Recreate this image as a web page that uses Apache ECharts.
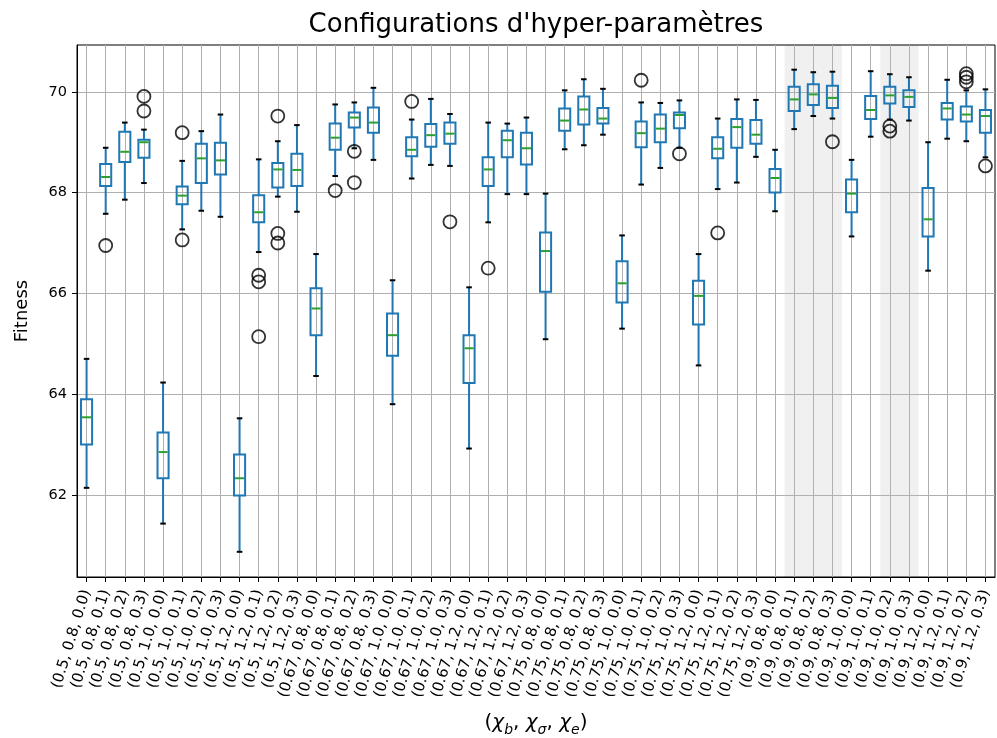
<!DOCTYPE html>
<html>
<head>
<meta charset="utf-8">
<script src="https://cdn.jsdelivr.net/npm/echarts@6/dist/echarts.min.js"></script>
<style>
  html, body { margin: 0; padding: 0; background: #fff; }
  #chart { width: 997px; height: 738px; }
</style>
</head>
<body>
<div id="chart"></div>
<script>
// Hyper-parameter grid: (chi_b, chi_sigma, chi_e)
const chiB = ['0.5', '0.67', '0.75', '0.9'];
const chiSigma = ['0.8', '1.0', '1.2'];
const chiE = ['0.0', '0.1', '0.2', '0.3'];

const categories = [];
chiB.forEach(b => chiSigma.forEach(s => chiE.forEach(e => categories.push('(' + b + ', ' + s + ', ' + e + ')'))));

// Box statistics per configuration (same order as categories)
const whiskerLow = [
  62.14, 67.58, 67.86, 68.19, 61.43, 67.27, 67.64, 67.52, 60.87, 66.82, 67.92, 67.62,
  64.36, 68.33, 68.88, 68.65, 63.80, 68.28, 68.55, 68.53, 62.92, 67.41, 67.97, 67.97,
  65.09, 68.86, 68.94, 69.15, 65.30, 68.16, 68.49, 68.89, 64.57, 68.07, 68.20, 68.71,
  67.63, 69.26, 69.52, 69.47, 67.13, 69.11, 69.45, 69.43, 66.45, 69.07, 69.02, 68.70
];
const quart1 = [
  63.00, 68.13, 68.61, 68.69, 62.33, 67.77, 68.19, 68.36, 61.99, 67.41, 68.10, 68.13,
  65.17, 68.85, 69.29, 69.19, 64.76, 68.72, 68.91, 68.97, 64.22, 68.13, 68.70, 68.56,
  66.03, 69.23, 69.35, 69.37, 65.82, 68.90, 69.00, 69.28, 65.38, 68.68, 68.89, 68.97,
  68.00, 69.62, 69.74, 69.68, 67.61, 69.46, 69.77, 69.70, 67.13, 69.45, 69.41, 69.19
];
const medians = [
  63.54, 68.31, 68.81, 69.00, 62.85, 67.94, 68.68, 68.64, 62.33, 67.61, 68.46, 68.45,
  65.70, 69.09, 69.49, 69.39, 65.17, 68.85, 69.14, 69.17, 64.91, 68.46, 69.04, 68.88,
  66.84, 69.43, 69.65, 69.47, 66.20, 69.18, 69.27, 69.54, 65.95, 68.87, 69.30, 69.15,
  68.29, 69.85, 69.95, 69.88, 67.98, 69.64, 69.93, 69.90, 67.47, 69.67, 69.55, 69.52
];
const quart3 = [
  63.90, 68.57, 69.21, 69.05, 63.24, 68.12, 68.97, 68.99, 62.80, 67.95, 68.59, 68.77,
  66.10, 69.37, 69.59, 69.69, 65.60, 69.10, 69.36, 69.39, 65.17, 68.70, 69.23, 69.19,
  67.21, 69.67, 69.91, 69.68, 66.64, 69.41, 69.55, 69.59, 66.25, 69.10, 69.46, 69.44,
  68.47, 70.10, 70.15, 70.12, 68.26, 69.92, 70.10, 70.03, 68.09, 69.78, 69.71, 69.64
];
const whiskerHigh = [
  64.70, 68.89, 69.39, 69.25, 64.23, 68.63, 69.22, 69.55, 63.52, 68.66, 69.02, 69.34,
  66.78, 69.75, 69.79, 70.08, 66.26, 69.45, 69.86, 69.56, 66.12, 69.39, 69.37, 69.49,
  67.98, 70.03, 70.25, 70.06, 67.15, 69.79, 69.78, 69.83, 66.78, 69.47, 69.85, 69.84,
  68.85, 70.44, 70.39, 70.40, 68.65, 70.41, 70.35, 70.29, 69.00, 70.24, 70.03, 70.05
];

// Outliers: [category index, fitness]
const outliers = [
  [1, 66.95], [3, 69.91], [3, 69.62], [5, 69.19], [5, 67.06],
  [9, 66.36], [9, 66.23], [9, 65.14], [10, 69.52], [10, 67.19], [10, 67.00],
  [13, 68.04], [14, 68.82], [14, 68.20], [17, 69.81], [19, 67.42], [21, 66.50],
  [29, 70.23], [31, 68.77], [33, 67.20], [39, 69.01], [42, 69.32], [42, 69.22],
  [46, 70.36], [46, 70.29], [46, 70.20], [47, 68.53]
];

// Highlighted ranges of configurations: [first index, last index]
const highlights = [[37, 39], [42, 43]];

const yTicks = [62, 64, 66, 68, 70];

const FONT = 'DejaVu Sans';
const BLUE = '#1f77b4';
const GREEN = '#2ca02c';

const boxData = categories.map((c, i) => [i, whiskerLow[i], quart1[i], medians[i], quart3[i], whiskerHigh[i]]);

function renderBox(params, api) {
  const i = api.value(0);
  const band = api.size([1, 0])[0];
  const half = band * 0.29;
  const capHalf = half / 2;
  const pLow = api.coord([i, api.value(1)]);
  const pQ1 = api.coord([i, api.value(2)]);
  const pMed = api.coord([i, api.value(3)]);
  const pQ3 = api.coord([i, api.value(4)]);
  const pHigh = api.coord([i, api.value(5)]);
  const x = pMed[0];
  const lw = 2;
  const line = (x1, y1, x2, y2, color) => ({
    type: 'line',
    shape: { x1, y1, x2, y2 },
    style: { stroke: color, lineWidth: lw }
  });
  return {
    type: 'group',
    children: [
      line(x, pQ1[1], x, pLow[1], BLUE),
      line(x, pQ3[1], x, pHigh[1], BLUE),
      line(x - capHalf, pLow[1], x + capHalf, pLow[1], '#000'),
      line(x - capHalf, pHigh[1], x + capHalf, pHigh[1], '#000'),
      {
        type: 'rect',
        shape: { x: x - half, y: pQ3[1], width: 2 * half, height: pQ1[1] - pQ3[1] },
        style: { fill: 'none', stroke: BLUE, lineWidth: lw }
      },
      line(x - half + 1, pMed[1], x + half - 1, pMed[1], GREEN)
    ]
  };
}

function renderShade(params, api) {
  const a = api.coord([api.value(0), 65]);
  const b = api.coord([api.value(1), 65]);
  const band = api.size([1, 0])[0];
  const cs = params.coordSys;
  return {
    type: 'rect',
    shape: { x: a[0] - band / 2, y: cs.y, width: b[0] - a[0] + band, height: cs.height },
    style: { fill: 'rgba(0,0,0,0.06)' }
  };
}

const chart = echarts.init(document.getElementById('chart'), null, { renderer: 'canvas' });

chart.setOption({
  animation: false,
  backgroundColor: '#ffffff',
  graphic: [{
    type: 'text',
    x: 536,
    y: 25,
    style: {
      text: "Configurations d'hyper-paramètres",
      font: '26px "DejaVu Sans"',
      fill: '#000',
      align: 'center',
      verticalAlign: 'middle'
    }
  }],
  grid: {
    left: 77, right: 2, top: 45, bottom: 161,
    outerBoundsMode: 'none',
    containLabel: false,
    show: true, borderColor: '#000', borderWidth: 1, backgroundColor: 'transparent'
  },
  xAxis: {
    type: 'category',
    data: categories,
    boundaryGap: true,
    axisLine: { show: true, lineStyle: { color: '#000', width: 1 } },
    axisTick: { show: true, alignWithLabel: true, interval: 0, length: 5, lineStyle: { color: '#000', width: 1 } },
    axisLabel: {
      interval: 0, rotate: 73, margin: 13,
      fontFamily: FONT, fontSize: 15, color: '#000'
    },
    splitLine: { show: true, alignWithLabel: true, interval: 0, lineStyle: { color: '#b0b0b0', width: 1 } },
    name: '{p|(}{m|χ}{s|b}{p|, }{m|χ}{s|σ}{p|, }{m|χ}{s|e}{p|)}',
    nameLocation: 'middle',
    nameGap: 132,
    nameTextStyle: {
      rich: {
        p: { fontFamily: FONT, fontSize: 20, color: '#000', lineHeight: 28, verticalAlign: 'middle' },
        m: { fontFamily: FONT, fontSize: 20, fontStyle: 'italic', color: '#000', lineHeight: 28, verticalAlign: 'middle' },
        s: { fontFamily: FONT, fontSize: 14, fontStyle: 'italic', color: '#000', lineHeight: 28, verticalAlign: 'bottom', padding: [9, 0, 0, 0] }
      }
    }
  },
  yAxis: {
    type: 'value',
    min: 60.37,
    max: 70.93,
    axisLine: { show: true, lineStyle: { color: '#000', width: 1 } },
    axisTick: { show: true, length: 5, customValues: yTicks, lineStyle: { color: '#000', width: 1 } },
    axisLabel: { customValues: yTicks, margin: 10, fontFamily: FONT, fontSize: 14.5, color: '#000' },
    splitLine: { show: true, lineStyle: { color: '#b0b0b0', width: 1 } },
    name: 'Fitness',
    nameLocation: 'middle',
    nameGap: 46,
    nameTextStyle: { fontFamily: FONT, fontSize: 18, color: '#000' }
  },
  series: [
    {
      type: 'custom',
      name: 'highlight',
      data: highlights,
      encode: { x: [0, 1] },
      renderItem: renderShade,
      z: -1,
      silent: true
    },
    {
      type: 'custom',
      name: 'fitness',
      data: boxData,
      encode: { x: 0, y: [1, 2, 3, 4, 5] },
      renderItem: renderBox,
      z: 3
    },
    {
      type: 'scatter',
      name: 'outliers',
      data: outliers,
      symbol: 'circle',
      symbolSize: 13,
      itemStyle: { color: 'rgba(0,0,0,0)', borderColor: '#000', borderWidth: 1.8 },
      z: 4
    }
  ]
});
</script>
</body>
</html>
